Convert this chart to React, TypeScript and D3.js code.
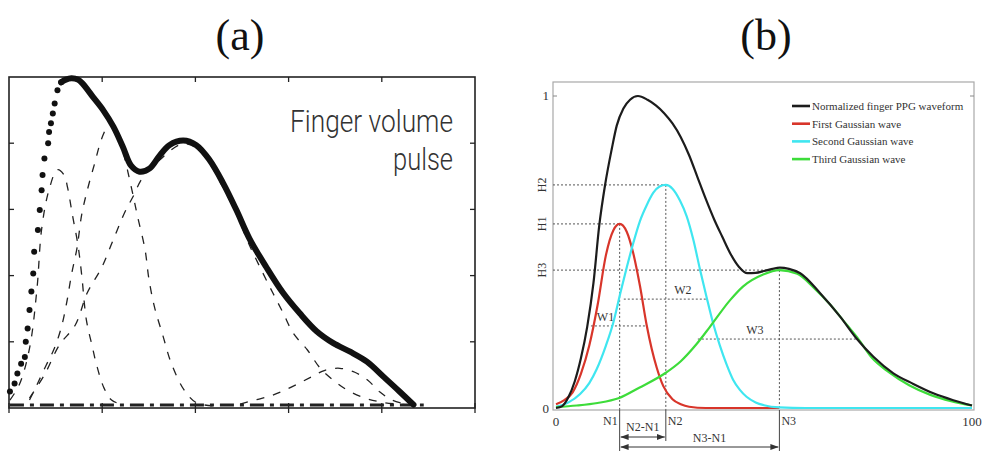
import React from 'react';
import * as d3 from 'd3';

type Pt = [number, number];

// ---------- Panel (a): finger volume pulse (axis units 0–5) ----------
const pulseDots: Pt[] = [
  [0.01, 0.25], [0.06, 0.37], [0.09, 0.52], [0.13, 0.67], [0.17, 0.77], [0.18, 1.0],
  [0.2, 1.2], [0.22, 1.48], [0.24, 1.76], [0.26, 2.03], [0.27, 2.36], [0.31, 2.69],
  [0.33, 2.99], [0.35, 3.29], [0.36, 3.52], [0.38, 3.77], [0.42, 4.0], [0.43, 4.17],
  [0.45, 4.3], [0.47, 4.45], [0.49, 4.6], [0.52, 4.8], [0.56, 4.92],
];
const pulseLine: Pt[] = [
  [0.56, 4.92], [0.61, 4.96], [0.67, 4.98], [0.74, 4.96], [0.79, 4.9], [0.9, 4.7],
  [1.01, 4.5], [1.12, 4.25], [1.22, 3.95], [1.31, 3.66], [1.4, 3.57], [1.51, 3.62],
  [1.62, 3.82], [1.72, 3.97], [1.87, 4.04], [2.01, 3.97], [2.15, 3.75], [2.3, 3.39],
  [2.44, 2.99], [2.58, 2.56], [2.76, 2.13], [2.94, 1.74], [3.12, 1.43], [3.3, 1.16],
  [3.48, 0.98], [3.66, 0.85], [3.84, 0.7], [4.02, 0.47], [4.19, 0.25], [4.34, 0.05],
];
const waveA: Pt[] = [
  [0.01, 0.12], [0.11, 0.35], [0.22, 0.9], [0.3, 1.8], [0.35, 2.7], [0.43, 3.3],
  [0.52, 3.6], [0.59, 3.52], [0.63, 3.32], [0.68, 2.92], [0.74, 2.46], [0.78, 2.01],
  [0.83, 1.33], [0.89, 0.95], [0.94, 0.65], [1.02, 0.3], [1.1, 0.12], [1.24, 0.04],
];
const waveB: Pt[] = [
  [0.22, 0.12], [0.3, 0.35], [0.4, 0.65], [0.48, 0.88], [0.56, 1.21], [0.62, 1.6],
  [0.67, 2.01], [0.73, 2.42], [0.78, 2.92], [0.84, 3.29], [0.92, 3.7], [1.0, 4.09],
  [1.08, 4.29], [1.15, 4.2], [1.22, 3.9], [1.27, 3.6], [1.33, 3.22], [1.38, 2.89],
  [1.46, 2.39], [1.5, 1.96], [1.56, 1.53], [1.65, 1.1], [1.74, 0.68], [1.88, 0.27],
  [2.01, 0.08], [2.21, 0.03],
];
const waveC: Pt[] = [
  [0.22, 0.15], [0.38, 0.5], [0.54, 0.95], [0.71, 1.25], [0.84, 1.74], [0.99, 2.11],
  [1.11, 2.51], [1.24, 2.95], [1.33, 3.19], [1.43, 3.47], [1.62, 3.75], [1.86, 3.99],
  [2.01, 3.93], [2.15, 3.7], [2.29, 3.35], [2.44, 2.93], [2.58, 2.46], [2.72, 2.05],
  [2.83, 1.74], [2.94, 1.44], [3.05, 1.13], [3.2, 0.88], [3.34, 0.6], [3.48, 0.42],
  [3.63, 0.27], [3.82, 0.15], [4.03, 0.08], [4.25, 0.05],
];
const waveD: Pt[] = [
  [2.48, 0.06], [2.64, 0.12], [2.8, 0.18], [2.96, 0.27], [3.12, 0.38], [3.26, 0.48],
  [3.39, 0.57], [3.55, 0.6], [3.71, 0.54], [3.85, 0.42], [3.98, 0.24], [4.11, 0.12],
  [4.25, 0.06],
];
const baselineA: Pt[] = [[0.01, 0.045], [4.45, 0.045]];
const tickA = [0, 1, 2, 3, 4, 5];
const pulseTitle = ['Finger volume', 'pulse'];

// ---------- Panel (b): Gaussian decomposition of the PPG waveform (0–100) ----------
const ppgWave: Pt[] = [
  [0, 0.0], [1.5, 0.006], [3, 0.035], [4.5, 0.085], [6, 0.16], [7.5, 0.26], [9, 0.4],
  [10.4, 0.585], [11.8, 0.715], [13.4, 0.83], [14.6, 0.905], [16.2, 0.96], [17.8, 0.988],
  [19.7, 1.0], [22, 0.988], [24, 0.97], [26, 0.945], [28, 0.912], [30, 0.868],
  [32, 0.81], [34, 0.74], [36, 0.67], [38, 0.605], [40, 0.548], [42, 0.493],
  [44, 0.452], [46, 0.432], [48, 0.433], [50, 0.439], [52, 0.446], [53.8, 0.45],
  [56, 0.446], [58.7, 0.432], [63.5, 0.368], [68.3, 0.293], [72.3, 0.222], [76.3, 0.164],
  [81.1, 0.111], [85.9, 0.077], [90.7, 0.047], [95.5, 0.025], [100, 0.008],
];
const firstWave: Pt[] = [
  [0, 0.012], [2, 0.025], [4, 0.05], [6, 0.11], [8, 0.2], [10, 0.33], [12, 0.49],
  [13.8, 0.57], [15.3, 0.59], [17, 0.565], [18.5, 0.5], [20.2, 0.39], [21.8, 0.265],
  [23, 0.19], [24.2, 0.13], [25.8, 0.07], [28, 0.028], [30, 0.012], [32, 0.004],
  [36, 0.0], [45, 0.0], [53.7, 0.0],
];
const secondWave: Pt[] = [
  [0, 0.004], [3, 0.018], [5.8, 0.045], [8, 0.08], [9.8, 0.125], [12, 0.2], [13.8, 0.275],
  [15.5, 0.37], [17, 0.45], [18.6, 0.53], [20.2, 0.6], [21.8, 0.65], [23.4, 0.69],
  [24.9, 0.71], [26.4, 0.715], [28, 0.703], [29.8, 0.665], [31.4, 0.615], [33, 0.54],
  [34.6, 0.445], [36.2, 0.355], [37.8, 0.27], [39.4, 0.2], [41, 0.14], [42.6, 0.09],
  [44.2, 0.058], [45.8, 0.036], [48, 0.018], [50, 0.009], [53.7, 0.002], [60, 0.0],
  [100, 0.0],
];
const thirdWave: Pt[] = [
  [0, 0.003], [5, 0.008], [10, 0.016], [15, 0.031], [20, 0.065], [26.4, 0.113],
  [30, 0.15], [33.8, 0.205], [37, 0.26], [41.8, 0.345], [45, 0.39], [49.8, 0.428],
  [53.7, 0.442], [58, 0.43], [62, 0.385], [66, 0.33], [70, 0.265], [72.7, 0.221],
  [76, 0.16], [80, 0.115], [85, 0.072], [90, 0.042], [95, 0.022], [100, 0.008],
];
const peakNames = ['1', '2', '3'];
const peakPos = [15.3, 26.4, 53.7];
const peakHeight = [0.59, 0.715, 0.442];
const widthNames = ['W1', 'W2', 'W3'];
const widthLevel = [0.263, 0.349, 0.221];
const widthFrom = [8.4, 16.3, 34.1];
const widthTo = [21.9, 36.3, 72.6];
const legendLabels = [
  'Normalized finger PPG waveform',
  'First Gaussian wave',
  'Second Gaussian wave',
  'Third Gaussian wave',
];
const seriesColors = ['#1c1c1c', '#d8352a', '#3fe6f0', '#3ddc3a'];

export default function App() {
  // scales for panel (a)
  const xA = d3.scaleLinear().domain([0, 5]).range([9, 475]);
  const yA = d3.scaleLinear().domain([0, 5]).range([408, 77]);
  const lineA = d3.line<Pt>().x(d => xA(d[0])).y(d => yA(d[1])).curve(d3.curveCatmullRom.alpha(0.5));

  // scales for panel (b)
  const xB = d3.scaleLinear().domain([0, 100]).range([556, 972]);
  const yB = d3.scaleLinear().domain([0, 1]).range([408, 96]);
  const lineB = d3.line<Pt>().x(d => xB(d[0])).y(d => yB(d[1])).curve(d3.curveMonotoneX);

  const serif = '"Liberation Serif", "Times New Roman", serif';
  const bSeries = [ppgWave, firstWave, secondWave, thirdWave];
  const guide = { stroke: '#555', strokeWidth: 1, strokeDasharray: '2 2', fill: 'none' };
  const axisLeftB = 553;
  const axisBottomB = 410;
  const wLabelAt = [11.9, 30.5, 47.8];

  return (
    <svg width={983} height={452} style={{ position: 'absolute', left: 0, top: 0, background: '#fff' }}>
      <defs>
        <marker id="arrow" viewBox="0 0 8 6" refX="8" refY="3" markerWidth="8" markerHeight="6"
          orient="auto-start-reverse" markerUnits="userSpaceOnUse">
          <path d="M0,0 L8,3 L0,6 Z" fill="#333" />
        </marker>
      </defs>

      {/* panel titles */}
      <text x={240} y={50} textAnchor="middle" fontFamily={serif} fontSize={44} fill="#111">(a)</text>
      <text x={766} y={50} textAnchor="middle" fontFamily={serif} fontSize={44} fill="#111">(b)</text>

      {/* ===== Panel (a) ===== */}
      <g>
        <rect x={xA(0)} y={yA(5)} width={xA(5) - xA(0)} height={yA(0) - yA(5)}
          fill="none" stroke="#222" strokeWidth={1.6} />
        {tickA.map(t => (
          <g key={`ta${t}`} stroke="#222" strokeWidth={1.3}>
            <line x1={xA(t)} x2={xA(t)} y1={yA(0) - 5} y2={yA(0) + 5} />
            {t > 0 && t < 5 && <line x1={xA(t)} x2={xA(t)} y1={yA(5)} y2={yA(5) + 5} />}
            {t > 0 && t < 5 && <line x1={xA(0)} x2={xA(0) + 5} y1={yA(t)} y2={yA(t)} />}
            {t > 0 && t < 5 && <line x1={xA(5)} x2={xA(5) - 5} y1={yA(t)} y2={yA(t)} />}
          </g>
        ))}
        <path d={lineA(baselineA) ?? ''} fill="none" stroke="#222" strokeWidth={3}
          strokeDasharray="14 6 4 6" />
        {[waveA, waveB, waveC, waveD].map((w, i) => (
          <path key={`wa${i}`} d={lineA(w) ?? ''} fill="none" stroke="#222" strokeWidth={1.3}
            strokeDasharray="8 9" />
        ))}
        <path d={lineA(pulseLine) ?? ''} fill="none" stroke="#111" strokeWidth={6}
          strokeLinecap="round" strokeLinejoin="round" />
        {pulseDots.map((d, i) => (
          <circle key={`pd${i}`} cx={xA(d[0])} cy={yA(d[1])} r={3} fill="#111" />
        ))}
        <text x={453} y={132} textAnchor="end" fontFamily='Roboto, "DejaVu Sans", sans-serif' fontWeight={300}
          fontSize={31} fill="#333" textLength={163} lengthAdjust="spacingAndGlyphs">{pulseTitle[0]}</text>
        <text x={453} y={170} textAnchor="end" fontFamily='Roboto, "DejaVu Sans", sans-serif' fontWeight={300}
          fontSize={31} fill="#333" textLength={60} lengthAdjust="spacingAndGlyphs">{pulseTitle[1]}</text>
      </g>

      {/* ===== Panel (b) ===== */}
      <g>
        <rect x={axisLeftB} y={82} width={974 - axisLeftB} height={axisBottomB - 82}
          fill="none" stroke="#a8a8a8" strokeWidth={1.2} />
        <line x1={axisLeftB} x2={axisLeftB + 4} y1={yB(1)} y2={yB(1)} stroke="#888" />
        <line x1={974} x2={970} y1={yB(1)} y2={yB(1)} stroke="#888" />

        {/* guide lines for peak heights and positions */}
        {peakNames.map((n, i) => (
          <g key={`g${n}`}>
            <line x1={axisLeftB} x2={xB(peakPos[i])} y1={yB(peakHeight[i])} y2={yB(peakHeight[i])} {...guide} />
            <line x1={xB(peakPos[i])} x2={xB(peakPos[i])} y1={yB(peakHeight[i])} y2={axisBottomB} {...guide} />
            <line x1={xB(peakPos[i])} x2={xB(peakPos[i])} y1={axisBottomB}
              y2={i === 1 ? 441 : 451} stroke="#444" strokeWidth={1} />
          </g>
        ))}
        {widthNames.map((w, i) => (
          <g key={w}>
            <line x1={xB(widthFrom[i])} x2={xB(widthTo[i])} y1={yB(widthLevel[i])} y2={yB(widthLevel[i])} {...guide} />
            <text x={xB(wLabelAt[i])} y={yB(widthLevel[i]) - 5} textAnchor="middle"
              fontFamily={serif} fontSize={12} fill="#333">{w}</text>
          </g>
        ))}

        {/* curves: components first, waveform on top */}
        {[1, 2, 3, 0].map(i => (
          <path key={`c${i}`} d={lineB(bSeries[i]) ?? ''} fill="none" stroke={seriesColors[i]}
            strokeWidth={2.2} strokeLinejoin="round" />
        ))}

        {/* axis labels */}
        <text x={549} y={100} textAnchor="end" fontFamily={serif} fontSize={13} fill="#333">1</text>
        <text x={549} y={413} textAnchor="end" fontFamily={serif} fontSize={13} fill="#333">0</text>
        <text x={xB(0)} y={426} textAnchor="middle" fontFamily={serif} fontSize={13} fill="#333">0</text>
        <text x={xB(100)} y={426} textAnchor="middle" fontFamily={serif} fontSize={13} fill="#333">100</text>
        <text x={xB(peakPos[0]) - 2} y={425} textAnchor="end" fontFamily={serif} fontSize={12} fill="#333">N{peakNames[0]}</text>
        <text x={xB(peakPos[1]) + 2} y={425} textAnchor="start" fontFamily={serif} fontSize={12} fill="#333">N{peakNames[1]}</text>
        <text x={xB(peakPos[2]) + 2} y={425} textAnchor="start" fontFamily={serif} fontSize={12} fill="#333">N{peakNames[2]}</text>
        {peakNames.map((n, i) => (
          <text key={`h${n}`} transform={`translate(${546},${yB(peakHeight[i])}) rotate(-90)`}
            textAnchor="middle" fontFamily={serif} fontSize={12} fill="#333">H{n}</text>
        ))}

        {/* interval brackets */}
        <line x1={xB(peakPos[0]) + 1} x2={xB(peakPos[1]) - 1} y1={437} y2={437} stroke="#333"
          markerStart="url(#arrow)" markerEnd="url(#arrow)" />
        <line x1={xB(peakPos[0]) + 1} x2={xB(peakPos[2]) - 1} y1={447} y2={447} stroke="#333"
          markerStart="url(#arrow)" markerEnd="url(#arrow)" />
        <text x={(xB(peakPos[0]) + xB(peakPos[1])) / 2} y={431} textAnchor="middle" fontFamily={serif}
          fontSize={12} fill="#333">N2-N1</text>
        <text x={(xB(peakPos[0]) + xB(peakPos[2])) / 2 + 10} y={442} textAnchor="middle" fontFamily={serif}
          fontSize={12} fill="#333">N3-N1</text>

        {/* legend */}
        {legendLabels.map((l, i) => (
          <g key={l} transform={`translate(792,${106 + i * 17.7})`}>
            <line x1={0} x2={18} y1={0} y2={0} stroke={seriesColors[i]} strokeWidth={2.6} />
            <text x={20} y={4} fontFamily={serif} fontSize={11} fill="#333">{l}</text>
          </g>
        ))}
      </g>
    </svg>
  );
}
